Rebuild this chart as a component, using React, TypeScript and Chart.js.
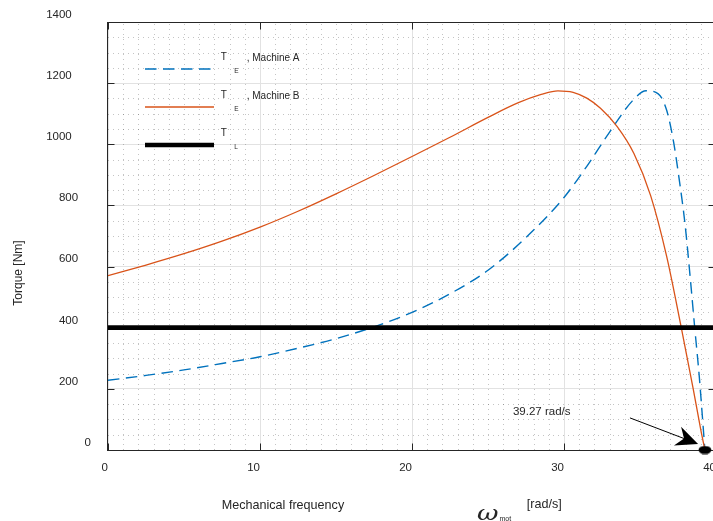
import React, { useEffect, useRef } from 'react';
import { Chart, registerables } from 'chart.js';

Chart.register(...registerables);

// ---------- data ----------
const speedA = [0, 2.5, 5, 7.5, 10, 12.5, 15, 17.5, 20, 22.5, 25, 27.5, 30, 31.5, 33, 34.5, 35.4, 36.2, 36.75, 37.2, 37.6, 37.96, 38.3, 38.6, 38.9, 39.1, 39.27];
const torqueA = [228, 244, 262, 283, 305, 333, 364, 403, 450, 511, 588, 695, 826, 928, 1040, 1142, 1175, 1165, 1112, 1010, 878, 740, 566, 400, 240, 112, 0];

const speedB = [0, 2.5, 5, 7.5, 10, 12.5, 15, 17.5, 20, 22.5, 25, 27, 28.5, 29.6, 30.6, 31.5, 32.4, 33.5, 34.6, 35.7, 36.75, 37.7, 38.5, 39.0, 39.27];
const torqueB = [570, 605, 642, 683, 729, 781, 838, 898, 960, 1023, 1088, 1136, 1163, 1175, 1170, 1151, 1118, 1058, 970, 832, 634, 404, 200, 66, 0];

const loadSpeed = [0, 40];
const loadTorque = [400, 400];

const syncSpeed = [39.27];
const syncTorque = [0];

const xRange = [0, 40];
const xMajor = 10;
const xMinor = 1;
const yRange = [0, 1400];
const yMajor = 200;
const yMinor = 50;

const legendMain = ['T', 'T', 'T'];
const legendSub = ['E', 'E', 'L'];
const legendRest = [', Machine A', ', Machine B', ''];

const yTitle = 'Torque [Nm]';
const xTitleMain = 'Mechanical frequency';
const xTitleSymbol = 'ω';
const xTitleSub = 'mot';
const xTitleUnit = '[rad/s]';

const annotationText = '39.27 rad/s';
const annotationTextAt = [26.64, 125];
const arrowFrom = [34.34, 105];
const arrowTo = [38.82, 20];

// ---------- styles ----------
const CW = 760;
const CH = 521;
const FONT = '"Liberation Sans", Arial, Helvetica, sans-serif';
const TEXT = '#262626';
const BLUE = '#0072BD';
const ORANGE = '#D95319';

const padLabel = (v: number | string) => {
  const s = String(v);
  return s + '  '.repeat(s.length);
};

const matlabPlugin = {
  id: 'matlabAxes',
  beforeDatasetsDraw(chart: any) {
    const { ctx, chartArea: a, scales } = chart;
    const xs = scales.x;
    const ys = scales.y;
    ctx.save();
    ctx.beginPath();
    ctx.rect(a.left, a.top, a.right - a.left, a.bottom - a.top);
    ctx.clip();
    ctx.strokeStyle = 'rgba(38,38,38,0.27)';
    ctx.lineWidth = 1;
    ctx.setLineDash([1, 4]);
    for (let v = xRange[0]; v <= xRange[1]; v += xMinor) {
      if (v % xMajor === 0) continue;
      const px = Math.round(xs.getPixelForValue(v)) + 0.5;
      ctx.beginPath();
      ctx.moveTo(px, a.bottom);
      ctx.lineTo(px, a.top);
      ctx.stroke();
    }
    for (let v = yRange[0]; v <= yRange[1]; v += yMinor) {
      if (v % yMajor === 0) continue;
      const py = Math.round(ys.getPixelForValue(v)) + 0.5;
      ctx.beginPath();
      ctx.moveTo(a.left, py);
      ctx.lineTo(a.right, py);
      ctx.stroke();
    }
    ctx.restore();

    ctx.save();
    ctx.strokeStyle = TEXT;
    ctx.lineWidth = 1;
    const L = Math.round(a.left) - 0.5;
    const R = Math.round(a.right) - 0.5;
    const T = Math.round(a.top) + 0.5;
    const B = Math.round(a.bottom) + 0.5;
    ctx.strokeRect(L, T, R - L, B - T);
    const tl = 7;
    ctx.beginPath();
    xs.ticks.forEach((t: any) => {
      const px = Math.round(xs.getPixelForValue(t.value)) + 0.5;
      ctx.moveTo(px, B);
      ctx.lineTo(px, B - tl);
      ctx.moveTo(px, T);
      ctx.lineTo(px, T + tl);
    });
    ys.ticks.forEach((t: any) => {
      const py = Math.round(ys.getPixelForValue(t.value)) + 0.5;
      ctx.moveTo(L, py);
      ctx.lineTo(L + tl, py);
      ctx.moveTo(R, py);
      ctx.lineTo(R - tl, py);
    });
    ctx.stroke();
    ctx.restore();
  },
  afterDraw(chart: any) {
    const { ctx, chartArea: a, scales } = chart;
    const xs = scales.x;
    const ys = scales.y;
    ctx.save();

    // legend
    const styles = [
      { color: BLUE, width: 1.4, dash: [11.5, 6.5] },
      { color: ORANGE, width: 1.3, dash: [] as number[] },
      { color: '#000000', width: 4.7, dash: [] as number[] },
    ];
    legendMain.forEach((m, i) => {
      const rowY = a.top + 47 + 38 * i;
      const s = styles[i];
      ctx.strokeStyle = s.color;
      ctx.lineWidth = s.width;
      ctx.setLineDash(s.dash);
      ctx.lineCap = 'butt';
      ctx.beginPath();
      ctx.moveTo(a.left + 37, rowY);
      ctx.lineTo(a.left + 106, rowY);
      ctx.stroke();
      ctx.setLineDash([]);
      ctx.fillStyle = TEXT;
      ctx.textAlign = 'left';
      ctx.textBaseline = 'middle';
      ctx.font = `10px ${FONT}`;
      ctx.fillText(m, a.left + 112.7, rowY - 11.5);
      ctx.font = `6.5px ${FONT}`;
      ctx.fillText(legendSub[i], a.left + 126.3, rowY + 1.8);
      if (legendRest[i]) {
        ctx.font = `10px ${FONT}`;
        ctx.fillText(legendRest[i], a.left + 138.7, rowY - 10.5);
      }
    });

    // annotation
    ctx.fillStyle = TEXT;
    ctx.font = `11.5px ${FONT}`;
    ctx.textAlign = 'left';
    ctx.textBaseline = 'middle';
    ctx.fillText(annotationText, xs.getPixelForValue(annotationTextAt[0]), ys.getPixelForValue(annotationTextAt[1]));
    const x0 = xs.getPixelForValue(arrowFrom[0]);
    const y0 = ys.getPixelForValue(arrowFrom[1]);
    const x1 = xs.getPixelForValue(arrowTo[0]);
    const y1 = ys.getPixelForValue(arrowTo[1]);
    const dx = x1 - x0;
    const dy = y1 - y0;
    const len = Math.hypot(dx, dy);
    const ux = dx / len;
    const uy = dy / len;
    const nx = -uy;
    const ny = ux;
    const headL = 22;
    const headW = 10;
    const notch = 15;
    const bx = x1 - headL * ux;
    const by = y1 - headL * uy;
    ctx.strokeStyle = '#000';
    ctx.lineWidth = 1;
    ctx.beginPath();
    ctx.moveTo(x0, y0);
    ctx.lineTo(x1 - notch * ux, y1 - notch * uy);
    ctx.stroke();
    ctx.fillStyle = '#000';
    ctx.beginPath();
    ctx.moveTo(x1, y1);
    ctx.lineTo(bx + headW * nx, by + headW * ny);
    ctx.lineTo(x1 - notch * ux, y1 - notch * uy);
    ctx.lineTo(bx - headW * nx, by - headW * ny);
    ctx.closePath();
    ctx.fill();

    // axis titles
    ctx.fillStyle = TEXT;
    ctx.save();
    ctx.translate(19, 273);
    ctx.rotate(-Math.PI / 2);
    ctx.textAlign = 'center';
    ctx.textBaseline = 'middle';
    ctx.font = `12px ${FONT}`;
    ctx.fillText(yTitle, 0, 0);
    ctx.restore();

    ctx.textAlign = 'left';
    ctx.textBaseline = 'alphabetic';
    ctx.font = `12.6px ${FONT}`;
    ctx.fillText(xTitleMain, 221.7, 509);
    ctx.fillText(xTitleUnit, 526.7, 508);

    ctx.font = `italic 20px "DejaVu Serif", serif`;
    const ow = ctx.measureText(xTitleSymbol).width;
    ctx.save();
    ctx.translate(477, 520);
    ctx.scale(21.5 / ow, 1);
    ctx.fillText(xTitleSymbol, 0, 0);
    ctx.restore();
    ctx.font = `7px ${FONT}`;
    ctx.fillText(xTitleSub, 499.5, 520.5);

    ctx.restore();
  },
};

export default function App() {
  const ref = useRef<HTMLCanvasElement>(null);

  useEffect(() => {
    document.documentElement.style.overflow = 'hidden';
    document.body.style.margin = '0';
    document.body.style.overflow = 'hidden';
    const canvas = ref.current;
    if (!canvas) return;

    const dot = document.createElement('canvas');
    dot.width = 14;
    dot.height = 9;
    const dctx = dot.getContext('2d');
    if (dctx) {
      dctx.fillStyle = '#000';
      dctx.beginPath();
      dctx.ellipse(7, 4.5, 6.4, 4.1, 0, 0, Math.PI * 2);
      dctx.fill();
    }

    const tickFont = { family: FONT, size: 11.5 };

    const chart = new Chart(canvas, {
      type: 'line',
      data: {
        datasets: [
          {
            label: 'sync',
            data: syncSpeed.map((s, i) => ({ x: s, y: syncTorque[i] })),
            showLine: false,
            pointStyle: dot as any,
            pointRadius: 6,
            clip: false as any,
          },
          {
            label: 'T_L',
            data: loadSpeed.map((s, i) => ({ x: s, y: loadTorque[i] })),
            borderColor: '#000000',
            borderWidth: 4.7,
            pointRadius: 0,
            fill: false,
          },
          {
            label: 'T_E, Machine B',
            data: speedB.map((s, i) => ({ x: s, y: torqueB[i] })),
            borderColor: ORANGE,
            borderWidth: 1.3,
            pointRadius: 0,
            fill: false,
            cubicInterpolationMode: 'monotone',
          },
          {
            label: 'T_E, Machine A',
            data: speedA.map((s, i) => ({ x: s, y: torqueA[i] })),
            borderColor: BLUE,
            borderWidth: 1.4,
            borderDash: [11.5, 6.5],
            pointRadius: 0,
            fill: false,
            cubicInterpolationMode: 'monotone',
          },
        ],
      },
      options: {
        animation: false,
        responsive: false,
        events: [],
        layout: { padding: { left: 0, top: 22, right: CW - 716, bottom: 0 } },
        plugins: {
          legend: { display: false },
          tooltip: { enabled: false },
          title: { display: false },
        },
        scales: {
          x: {
            type: 'linear',
            min: xRange[0],
            max: xRange[1],
            border: { display: false },
            grid: { color: '#e2e2e2', lineWidth: 1, drawTicks: false },
            ticks: {
              stepSize: xMajor,
              autoSkip: false,
              maxRotation: 0,
              minRotation: 0,
              padding: 11,
              color: TEXT,
              font: tickFont,
              callback: (v: any) => padLabel(v),
            },
            afterFit: (s: any) => {
              s.height = 71;
            },
          },
          y: {
            type: 'linear',
            min: yRange[0],
            max: yRange[1],
            border: { display: false },
            grid: { color: '#e2e2e2', lineWidth: 1, drawTicks: false },
            ticks: {
              stepSize: yMajor,
              autoSkip: false,
              padding: 10.7,
              labelOffset: -7.3,
              color: TEXT,
              font: tickFont,
              callback: (v: any) => padLabel(v),
            },
            afterFit: (s: any) => {
              s.width = 108;
            },
          },
        },
      },
      plugins: [matlabPlugin],
    } as any);

    return () => chart.destroy();
  }, []);

  return (
    <div style={{ position: 'fixed', left: 0, top: 0, width: CW, height: CH, background: '#ffffff' }}>
      <canvas ref={ref} width={CW} height={CH} style={{ width: CW, height: CH, display: 'block' }} />
    </div>
  );
}
